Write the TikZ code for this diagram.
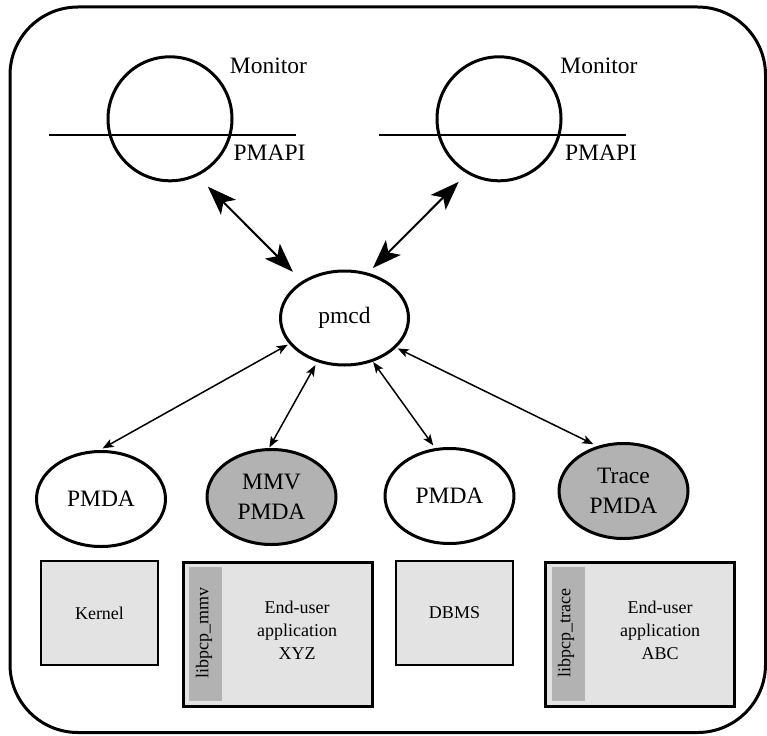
\documentclass[tikz,border=0pt]{standalone}
\usepackage{fontspec}
\setmainfont{Liberation Serif}
\usetikzlibrary{shapes.geometric,arrows.meta}
\definecolor{strip}{gray}{0.70}
\definecolor{boxfill}{gray}{0.89}
\begin{document}
\begin{tikzpicture}[x=1pt,y=-1pt,
  big/.style={font=\fontsize{23.5}{30}\selectfont},
  small/.style={font=\fontsize{18}{23}\selectfont},
  mon/.style={circle,draw,line width=3pt,minimum size=124pt,inner sep=0pt,outer sep=0pt},
  agent/.style={ellipse,draw,line width=3pt,minimum width=129pt,minimum height=95pt,inner sep=0pt,outer sep=0pt,align=center,big},
  shaded/.style={fill=strip},
  plainbox/.style={draw,fill=boxfill,line width=1.5pt,minimum width=117pt,minimum height=104pt,inner sep=0pt,small},
  appbox/.style={draw,fill=boxfill,line width=3pt,minimum width=189pt,minimum height=144pt,inner sep=0pt},
  libstrip/.style={fill=strip,minimum width=33pt,minimum height=134pt,inner sep=0pt},
  libtext/.style={rotate=90,small,inner sep=0pt},
  apptext/.style={small,align=center,inner sep=0pt},
  toparrow/.style={line width=2pt,{Stealth[length=29pt,width=21pt,inset=7pt]}-{Stealth[length=29pt,width=21pt,inset=7pt]}},
  botarrow/.style={line width=1.5pt,{Stealth[length=11pt,width=8.5pt,inset=2.5pt]}-{Stealth[length=11pt,width=8.5pt,inset=2.5pt]}},
  apiline/.style={line width=1.5pt}
]
\useasboundingbox (0,0) rectangle (767,735);
% outer frame
\draw[line width=3pt,rounded corners=68pt] (10,7) rectangle (765.5,732.5);

% monitors
\node[mon] (mon1) at (170,118.8) {};
\node[mon] (mon2) at (499,118.8) {};
\draw[apiline] (49,135) -- (296,135);
\draw[apiline] (379,135) -- (626,135);
\node[big,inner sep=0pt] (mlab1) at (268.5,66) {Monitor};
\node[big,inner sep=0pt] (plab1) at (269.5,153) {PMAPI};
\node[big,inner sep=0pt] (mlab2) at (599,66) {Monitor};
\node[big,inner sep=0pt] (plab2) at (601,153) {PMAPI};

% pmcd
\node[agent,minimum width=128pt,minimum height=94pt] (pmcd) at (344.5,318) {pmcd};

% agents
\node[agent] (pmda1) at (101,499) {PMDA};
\node[agent,fill=strip] (mmv) at (271.5,497) {MMV\\PMDA};
\node[agent] (pmda3) at (449.5,496) {PMDA};
\node[agent,fill=strip] (trace) at (623.5,491) {Trace\\PMDA};

% arrows
\draw[toparrow,shorten <=16.5pt,shorten >=14.6pt] (mon1.295) -- (pmcd.139);
\draw[toparrow,shorten <=13.2pt,shorten >=8.4pt] (mon2.240.4) -- (pmcd.63.4);
\draw[botarrow,shorten <=3.1pt,shorten >=6.5pt] (pmcd.205.8) -- (pmda1.95.6);
\draw[botarrow,shorten <=5pt,shorten >=2.4pt] (pmcd.238.3) -- (mmv.94.3);
\draw[botarrow,shorten <=2pt,shorten >=5pt] (pmcd.303.2) -- (pmda3.106.1);
\draw[botarrow,shorten <=3.2pt,shorten >=6.4pt] (pmcd.330.2) -- (trace.119.7);

% bottom boxes
\node[plainbox] (kernel) at (99.5,613) {Kernel};
\node[plainbox] (dbms) at (454.5,613) {DBMS};

\node[appbox] (xyz) at (277.5,634) {};
\node[libstrip] (mmvstrip) at (205.5,634) {};
\node[libtext] (mmvlib) at (204,633) {libpcp\_mmv};
\node[apptext] (xyztext) at (297,630) {End-user\\application\\XYZ};

\node[appbox] (abc) at (639.5,634) {};
\node[libstrip] (tracestrip) at (568.5,634) {};
\node[libtext] (tracelib) at (566,633) {libpcp\_trace};
\node[apptext] (abctext) at (660,630) {End-user\\application\\ABC};
\end{tikzpicture}
\end{document}
